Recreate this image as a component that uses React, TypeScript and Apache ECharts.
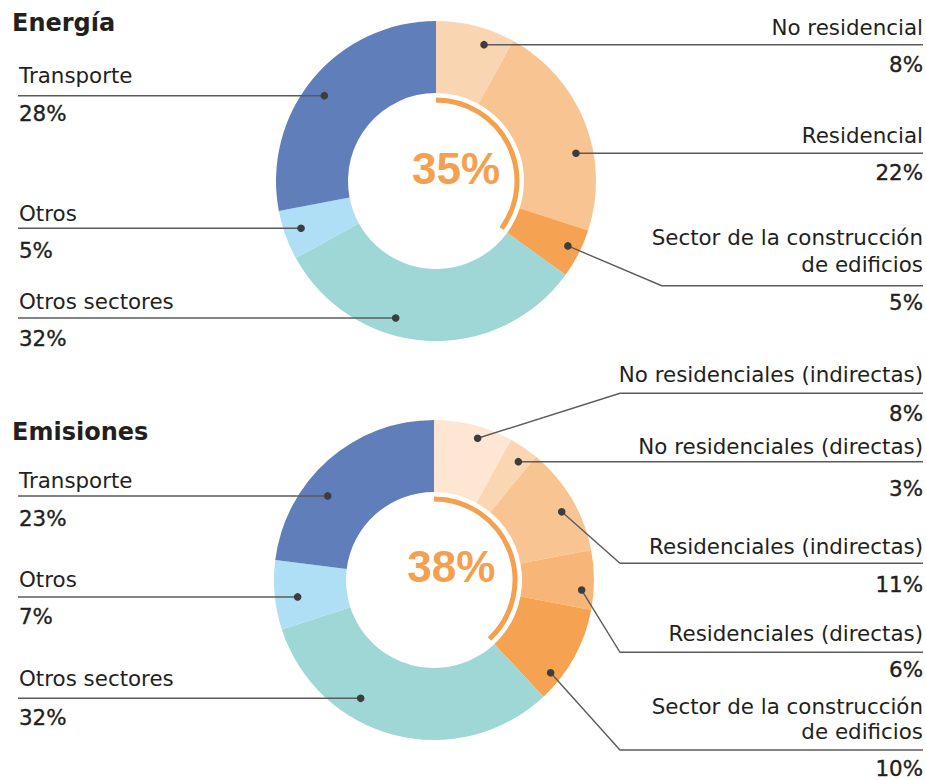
import React, { useEffect, useRef } from 'react';
import * as echarts from 'echarts';

// ---------- data ----------
const energyTitle = 'Energía';
const energyNames = ['No residencial', 'Residencial', 'Sector de la construcción\nde edificios', 'Otros sectores', 'Otros', 'Transporte'];
const energyValues = [8, 22, 5, 32, 5, 28];
const energyBuildingSlices = 3; // first slices belong to buildings

const emissionTitle = 'Emisiones';
const emissionNames = [
  'No residenciales (indirectas)',
  'No residenciales (directas)',
  'Residenciales (indirectas)',
  'Residenciales (directas)',
  'Sector de la construcción\nde edificios',
  'Otros sectores',
  'Otros',
  'Transporte',
];
const emissionValues = [8, 3, 11, 6, 10, 32, 7, 23];
const emissionBuildingSlices = 5;

// ---------- styles ----------
const energyColors = ['#f9d6b1', '#f8c592', '#f5a352', '#9ed7d6', '#aedff4', '#607fba'];
const emissionColors = ['#fde7d3', '#fad6b2', '#f8c592', '#f7b577', '#f5a352', '#9ed7d6', '#aedff4', '#607fba'];
const TEXT = '#231f20';
const LINE = '#5b5b5d';
const DOT = '#3d3d3f';
const ORANGE = '#f5a04e';
const LABEL_FONT = '21.4px "DejaVu Sans", sans-serif';
const TITLE_FONT = 'bold 24px "DejaVu Sans", sans-serif';
const PCT_FONT = 'bold 44px "Liberation Sans", Arial, sans-serif';

// ---------- layout ----------
const LEFT_X = 19;
const RIGHT_X = 923;
const LINE_LEFT = 18;
const INNER_R = 88;
const OUTER_R = 160;

const energyLayout = {
  center: [436, 181],
  titleY: 22.5,
  pct: [456, 168],
  side: ['r', 'r', 'r', 'l', 'l', 'l'],
  dotFrac: [0.674, 0.631, 0.456, 0.611, 0.528, 0.478],
  dotR: [144.5, 142.7, 147, 142.8, 143, 140.5],
  nameY: [27.5, 135, 237.5, 301.7, 213.3, 75.8],
  valueY: [64.2, 172.8, 302.7, 338.8, 250.8, 113.3],
  lineY: [null, null, 285.7, null, null, null] as (number | null)[],
  cornerX: 661.7,
  lineGap: 26.5,
};

const emissionLayout = {
  center: [434, 580],
  titleY: 431.7,
  pct: [451.3, 566.7],
  side: ['r', 'r', 'r', 'r', 'r', 'l', 'l', 'l'],
  dotFrac: [0.594, 0.62, 0.563, 0.68, 0.769, 0.651, 0.433, 0.376],
  dotR: [148.3, 145.3, 144.8, 148, 149, 139.2, 137.4, 135.5],
  nameY: [374.5, 446, 546.3, 633.3, 706.7, 678.8, 579.3, 480],
  valueY: [413.3, 488.8, 584.5, 669.7, 768.4, 717, 616, 518.8],
  lineY: [393.3, null, 563.3, 652.3, 750, null, null, null] as (number | null)[],
  cornerX: 620,
  lineGap: 25,
};

function buildGraphics(title: string, names: string[], values: number[], buildingSlices: number, L: typeof energyLayout) {
  const els: any[] = [];
  const [cx, cy] = L.center;
  const total = values.reduce((a, b) => a + b, 0);
  let acc = 0;
  els.push({
    type: 'text', x: 12, y: L.titleY, z: 20,
    style: { text: title, font: TITLE_FONT, fill: TEXT, align: 'left', verticalAlign: 'middle' },
  });
  values.forEach((v, i) => {
    const start = (acc / total) * 360;
    const span = (v / total) * 360;
    acc += v;
    const th = ((start + span * L.dotFrac[i]) * Math.PI) / 180;
    const dx = cx + L.dotR[i] * Math.sin(th);
    const dy = cy - L.dotR[i] * Math.cos(th);
    const right = L.side[i] === 'r';
    const ly = L.lineY[i];
    let pts: number[][];
    if (ly == null) {
      pts = right ? [[dx, dy], [RIGHT_X, dy]] : [[LINE_LEFT, dy], [dx, dy]];
    } else {
      pts = [[dx, dy], [L.cornerX, ly], [RIGHT_X, ly]];
    }
    els.push({ type: 'polyline', z: 20, shape: { points: pts }, style: { stroke: LINE, lineWidth: 1.4, fill: null } });
    els.push({ type: 'circle', z: 21, shape: { cx: dx, cy: dy, r: 3.8 }, style: { fill: DOT } });
    const lines = names[i].split('\n');
    lines.forEach((t, k) => {
      els.push({
        type: 'text', z: 20, x: right ? RIGHT_X : LEFT_X, y: L.nameY[i] + k * L.lineGap,
        style: { text: t, font: LABEL_FONT, fill: TEXT, align: right ? 'right' : 'left', verticalAlign: 'middle' },
      });
    });
    els.push({
      type: 'text', z: 20, x: right ? RIGHT_X : LEFT_X, y: L.valueY[i],
      style: {
        text: `${v}%`, font: LABEL_FONT, fill: TEXT, stroke: TEXT, lineWidth: 0.35,
        align: right ? 'right' : 'left', verticalAlign: 'middle',
      },
    });
  });
  const share = values.slice(0, buildingSlices).reduce((a, b) => a + b, 0);
  els.push({
    type: 'arc', z: 20,
    shape: { cx, cy, r: 81, startAngle: -Math.PI / 2, endAngle: -Math.PI / 2 + (2 * Math.PI * share) / total, clockwise: true },
    style: { stroke: ORANGE, lineWidth: 5, fill: null, lineCap: 'butt' },
  });
  els.push({
    type: 'text', z: 20, x: L.pct[0], y: L.pct[1],
    style: { text: `${Math.round((share / total) * 100)}%`, font: PCT_FONT, fill: ORANGE, align: 'center', verticalAlign: 'middle' },
  });
  return els;
}

function pieSeries(names: string[], values: number[], colors: string[], center: number[]) {
  return {
    type: 'pie',
    center,
    radius: [INNER_R, OUTER_R],
    startAngle: 90,
    clockwise: true,
    silent: true,
    avoidLabelOverlap: false,
    label: { show: false },
    labelLine: { show: false },
    emphasis: { disabled: true },
    itemStyle: { borderWidth: 0 },
    data: names.map((n, i) => ({ name: n, value: values[i], itemStyle: { color: colors[i] } })),
  };
}

export default function App() {
  const ref = useRef<HTMLDivElement>(null);
  useEffect(() => {
    if (!ref.current) return;
    const chart = echarts.init(ref.current, undefined, { renderer: 'svg' });
    chart.setOption({
      animation: false,
      backgroundColor: '#ffffff',
      series: [
        pieSeries(energyNames, energyValues, energyColors, energyLayout.center),
        pieSeries(emissionNames, emissionValues, emissionColors, emissionLayout.center),
      ],
      graphic: {
        elements: [
          ...buildGraphics(energyTitle, energyNames, energyValues, energyBuildingSlices, energyLayout),
          ...buildGraphics(emissionTitle, emissionNames, emissionValues, emissionBuildingSlices, emissionLayout as any),
        ],
      },
    });
    return () => chart.dispose();
  }, []);
  return <div ref={ref} style={{ position: 'fixed', left: 0, top: 0, width: 926, height: 780 }} />;
}
